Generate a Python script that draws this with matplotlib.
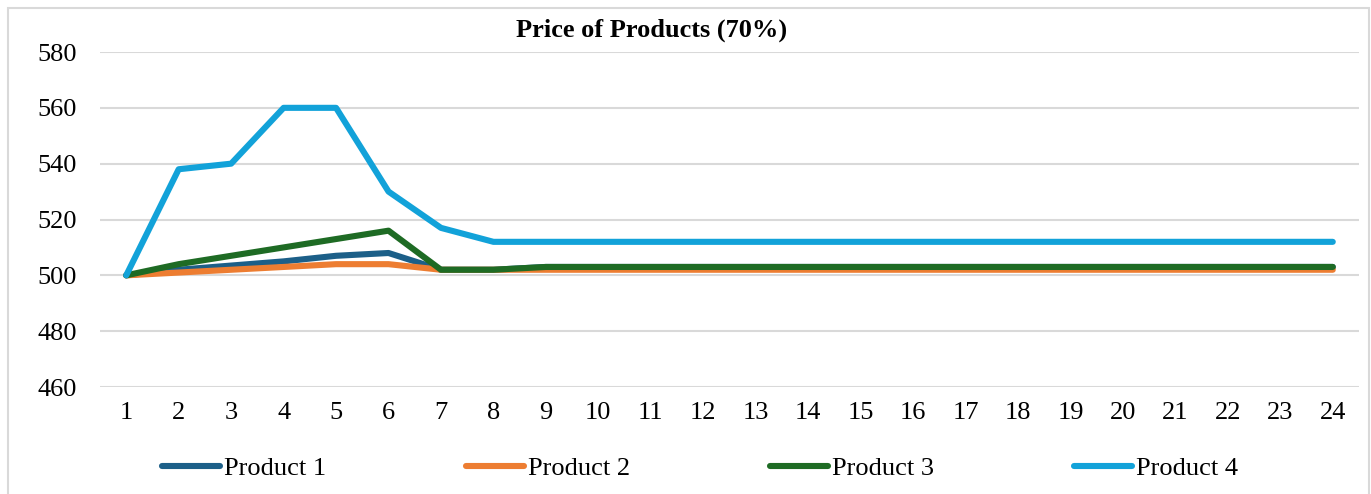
import matplotlib.pyplot as plt
from matplotlib.patches import Rectangle

plt.rcParams['font.family'] = ['Liberation Serif', 'DejaVu Serif']

periods = list(range(1, 25))
product_1 = [500, 502, 503.5, 505, 507, 508, 502, 502] + [503] * 16
product_2 = [500, 501, 502, 503, 504, 504, 502, 502] + [502] * 16
product_3 = [500, 504, 507, 510, 513, 516, 502, 502] + [503] * 16
product_4 = [500, 538, 540, 560, 560, 530, 517, 512] + [512] * 16

series = [
    ('Product 1', product_1, '#1c5f88'),
    ('Product 2', product_2, '#ed7d31'),
    ('Product 3', product_3, '#1e6b24'),
    ('Product 4', product_4, '#12a2d9'),
]

fig = plt.figure(figsize=(13.71, 4.94), dpi=100)
ax = fig.add_axes([100 / 1371, 1 - 387 / 494, 1259 / 1371, 335 / 494])

for name, vals, col in series:
    ax.plot(periods, vals, color=col, lw=4.4, label=name, solid_capstyle='round')

ax.set_xlim(0.5, 24.5)
ax.set_ylim(460, 580)
ax.set_xticks(periods)
ax.set_yticks(range(460, 581, 20))
ax.grid(axis='y', color='#d9d9d9', lw=1.5)
ax.set_axisbelow(True)
for s in ax.spines.values():
    s.set_visible(False)
ax.tick_params(length=0, labelsize=19, colors='black')
ax.tick_params(axis='y', pad=16.5)
ax.tick_params(axis='x', pad=11)

fig.text(652 / 1371, 1 - 30 / 494, 'Price of Products (70%)',
         ha='center', va='center', fontsize=19, fontweight='bold')

fig.legend(loc='center', bbox_to_anchor=(700 / 1371, 1 - 468 / 494), ncol=4,
           frameon=False, fontsize=19, handlelength=2.2, handletextpad=0.15,
           columnspacing=5.3)

# outer chart frame
fig.add_artist(Rectangle((8 / 1371, -0.05), 1361 / 1371, 1.05 - 8 / 494,
                         transform=fig.transFigure, fill=False,
                         edgecolor='#d9d9d9', lw=1.5))

fig.savefig('out.png', dpi=100)
